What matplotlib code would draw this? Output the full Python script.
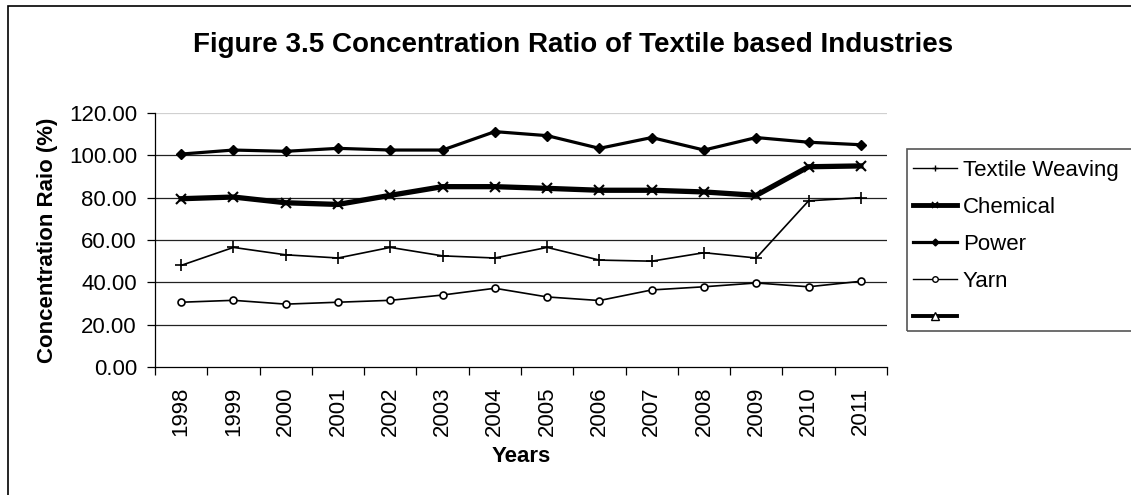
import matplotlib
matplotlib.use("Agg")
import matplotlib.pyplot as plt
from matplotlib.lines import Line2D
from matplotlib.patches import Rectangle

plt.rcParams['font.family'] = ['Liberation Sans', 'DejaVu Sans']

years = ['1998', '1999', '2000', '2001', '2002', '2003', '2004',
         '2005', '2006', '2007', '2008', '2009', '2010', '2011']
textile_weaving = [48.0, 56.5, 53.0, 51.5, 56.5, 52.5, 51.5, 56.5, 50.5, 50.0, 54.0, 51.5, 78.5, 80.0]
chemical = [79.5, 80.3, 77.6, 76.8, 81.1, 85.2, 85.2, 84.4, 83.5, 83.5, 82.7, 81.1, 94.6, 95.0]
power = [100.6, 102.5, 101.9, 103.3, 102.5, 102.5, 111.2, 109.3, 103.3, 108.4, 102.5, 108.4, 106.2, 105.0]
yarn = [30.6, 31.5, 29.7, 30.6, 31.5, 34.0, 37.2, 33.1, 31.4, 36.4, 37.9, 39.7, 37.9, 40.5]
yticks = [0, 20, 40, 60, 80, 100, 120]

W, H = 1131, 495
fig = plt.figure(figsize=(W / 100, H / 100), dpi=100)
ax = fig.add_axes([155 / W, 1 - 367 / H, 732 / W, 254 / H])

x = [i + 0.5 for i in range(len(years))]

for yv in yticks[1:-1]:
    ax.axhline(yv, color='#222222', lw=0.9, zorder=1)
ax.axhline(120, color='#d0d0d0', lw=0.9, zorder=1)

l1, = ax.plot(x, textile_weaving, color='black', lw=1.2, marker='+', ms=8, mew=1.2, zorder=3)
l2, = ax.plot(x, chemical, color='black', lw=3.8, marker='x', ms=7, mew=1.5, zorder=3)
l3, = ax.plot(x, power, color='black', lw=2.3, marker='D', ms=5, zorder=3)
l4, = ax.plot(x, yarn, color='black', lw=1.2, marker='o', ms=5, mfc='white', mew=1.2, zorder=3)

ax.set_xlim(0, len(years))
ax.set_ylim(0, 120)
ax.set_yticks(yticks)
ax.set_yticklabels([f'{v:.2f}' for v in yticks], fontsize=16)
ax.set_xticks(x)
ax.set_xticklabels(years, rotation=90, fontsize=16)
ax.set_xticks(range(len(years) + 1), minor=True)
ax.tick_params(axis='x', which='major', length=0, pad=14)
ax.tick_params(axis='x', which='minor', length=6, width=0.9, direction='out')
ax.tick_params(axis='y', which='major', length=6, width=0.9, direction='out', pad=7)

for s in ['top', 'right']:
    ax.spines[s].set_visible(False)
for s in ['left', 'bottom']:
    ax.spines[s].set_linewidth(0.9)

ax.set_ylabel('Concentration Raio (%)', fontsize=16, fontweight='bold', labelpad=8)
ax.set_xlabel('Years', fontsize=16, fontweight='bold', labelpad=7)

fig.text(573 / W, 1 - 45 / H, 'Figure 3.5 Concentration Ratio of Textile based Industries',
         ha='center', va='center', fontsize=20, fontweight='bold')

# outer chart border
fig.patches.append(Rectangle((8 / W, -0.1), 1.2, 1 - 6 / H + 0.1, transform=fig.transFigure,
                             fill=False, edgecolor='black', lw=1.2))
# legend border
fig.patches.append(Rectangle((907 / W, 1 - 331 / H), 0.5, (331 - 149) / H, transform=fig.transFigure,
                             fill=False, edgecolor='#555555', lw=1.2))

h1 = Line2D([], [], color='black', lw=1.0, marker='+', ms=5, mew=1.0)
h2 = Line2D([], [], color='black', lw=3.5, marker='x', ms=5, mew=1.2)
h3 = Line2D([], [], color='black', lw=2.3, marker='D', ms=3.5)
h4 = Line2D([], [], color='black', lw=1.0, marker='o', ms=4, mfc='white', mew=1.0)
h5 = Line2D([], [], color='black', lw=2.8, marker='^', ms=6, mfc='white', mew=1.0)
fig.legend([h1, h2, h3, h4, h5], ['Textile Weaving', 'Chemical', 'Power', 'Yarn', ''],
           loc='upper left', bbox_to_anchor=(913 / W, 1 - 160 / H), frameon=False,
           fontsize=16, handlelength=2.0, handletextpad=0.25, labelspacing=0.72,
           borderpad=0, borderaxespad=0)

fig.savefig('out.png', dpi=100)
